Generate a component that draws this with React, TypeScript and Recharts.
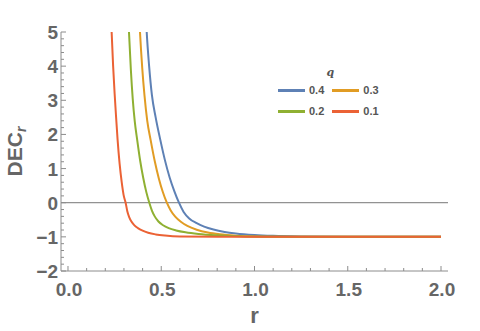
import React from "react";
import {
  LineChart,
  Line,
  XAxis,
  YAxis,
  ReferenceLine,
} from "recharts";

// q = 0.4 .. 0.1
const qLabels = ["0.4", "0.3", "0.2", "0.1"];
const qColors = ["#5E81B5", "#E19C24", "#8FB032", "#EB6235"];

const rBlue = [0.41, 0.422, 0.435, 0.45, 0.47, 0.495, 0.52, 0.545, 0.57, 0.595, 0.62, 0.65, 0.69, 0.73, 0.78, 0.84, 0.9, 1.0, 1.1, 1.25, 1.5, 2.0];
const decBlue = [6.4, 5.0, 4.0, 3.15, 2.5, 1.84, 1.24, 0.74, 0.34, 0, -0.27, -0.46, -0.6, -0.7, -0.785, -0.855, -0.9, -0.945, -0.97, -0.988, -0.998, -1];

const rOrange = [0.375, 0.386, 0.398, 0.41, 0.425, 0.443, 0.465, 0.487, 0.508, 0.53, 0.55, 0.575, 0.605, 0.64, 0.69, 0.75, 0.815, 0.9, 1.0, 1.2, 1.5, 2.0];
const decOrange = [6.3, 5.0, 3.95, 3.15, 2.4, 1.84, 1.22, 0.71, 0.32, 0, -0.22, -0.41, -0.56, -0.68, -0.79, -0.874, -0.926, -0.964, -0.986, -0.998, -1, -1];

const rGreen = [0.318, 0.327, 0.337, 0.347, 0.358, 0.371, 0.387, 0.403, 0.42, 0.436, 0.45, 0.465, 0.485, 0.51, 0.54, 0.58, 0.63, 0.7, 0.8, 0.95, 1.2, 1.5, 2.0];
const decGreen = [6.2, 5.0, 3.9, 3.05, 2.38, 1.84, 1.23, 0.74, 0.31, 0, -0.23, -0.4, -0.55, -0.66, -0.744, -0.812, -0.867, -0.916, -0.956, -0.986, -0.998, -1, -1];

const rRed = [0.226, 0.234, 0.242, 0.25, 0.258, 0.266, 0.277, 0.288, 0.298, 0.309, 0.318, 0.328, 0.34, 0.355, 0.375, 0.4, 0.43, 0.47, 0.52, 0.6, 0.8, 1.0, 1.5, 2.0];
const decRed = [6.2, 5.0, 4.0, 3.2, 2.5, 1.84, 1.13, 0.6, 0.23, 0, -0.25, -0.42, -0.55, -0.655, -0.745, -0.82, -0.88, -0.928, -0.963, -0.991, -1, -1, -1, -1];

const xMajor = [0, 0.5, 1, 1.5, 2];
const yMajor = [-2, -1, 0, 1, 2, 3, 4, 5];

const toPoints = (rs: number[], vs: number[]) => rs.map((r, i) => ({ r, v: vs[i] }));
const series = [
  toPoints(rBlue, decBlue),
  toPoints(rOrange, decOrange),
  toPoints(rGreen, decGreen),
  toPoints(rRed, decRed),
];

// minor ticks every 0.1 on x, every 0.2 on y
const xTicks = Array.from({ length: 21 }, (_, i) => i / 10);
const yTicks = Array.from({ length: 36 }, (_, i) => -2 + i / 5);
const isMajor = (v: number, majors: number[]) => majors.some((m) => Math.abs(m - v) < 1e-6);

const frame = "#8c8c8c";
const textColor = "#666";

const BottomTick = ({ x, y, payload }: any) => {
  const major = isMajor(payload.value, xMajor);
  return (
    <g>
      <line x1={x} x2={x} y1={y} y2={y - (major ? 5 : 3)} stroke={frame} />
      {major && (
        <text x={x + 1} y={y + 25} textAnchor="middle" fontSize={19} fontWeight="bold" fill={textColor}>
          {payload.value.toFixed(1)}
        </text>
      )}
    </g>
  );
};

const TopTick = ({ x, y, payload }: any) => {
  const major = isMajor(payload.value, xMajor);
  return <line x1={x} x2={x} y1={y} y2={y + (major ? 5 : 3)} stroke={frame} />;
};

const LeftTick = ({ x, y, payload }: any) => {
  const major = isMajor(payload.value, yMajor);
  const v = Math.round(payload.value);
  return (
    <g>
      <line x1={x} x2={x + (major ? 5 : 3)} y1={y} y2={y} stroke={frame} />
      {major && (
        <text x={x - 3} y={y + 7} textAnchor="end" fontSize={19} fontWeight="bold" fill={textColor}>
          {v < 0 ? "\u2212" + Math.abs(v) : String(v)}
        </text>
      )}
    </g>
  );
};

const RightTick = ({ x, y, payload }: any) => {
  const major = isMajor(payload.value, yMajor);
  return <line x1={x} x2={x - (major ? 5 : 3)} y1={y} y2={y} stroke={frame} />;
};

const YLabel = ({ viewBox }: any) => {
  const cx = viewBox.x + 0.5;
  const cy = viewBox.y + viewBox.height / 2;
  return (
    <text
      x={cx}
      y={cy}
      transform={`rotate(-90, ${cx}, ${cy})`}
      textAnchor="middle"
      fontSize={21}
      fontWeight="bold"
      fill={textColor}
    >
      DEC
      <tspan fontSize={14} fontStyle="italic" dy={4}>r</tspan>
    </text>
  );
};

const XLabel = ({ viewBox }: any) => (
  <text
    x={viewBox.x + viewBox.width / 2}
    y={viewBox.y + 52}
    textAnchor="middle"
    fontSize={22}
    fontWeight="bold"
    fill={textColor}
  >
    r
  </text>
);

function LegendBox() {
  return (
    <div
      style={{
        position: "absolute",
        left: 278,
        top: 66,
        fontSize: 11,
        fontWeight: "bold",
        color: "#555",
      }}
    >
      <div style={{ textAlign: "center", fontStyle: "italic", fontFamily: "'DejaVu Serif', serif", marginBottom: 5, marginLeft: 4 }}>q</div>
      <div style={{ display: "grid", gridTemplateColumns: "auto auto", columnGap: 8, rowGap: 9 }}>
        {qLabels.map((q, i) => (
          <div key={q} style={{ display: "flex", alignItems: "center", gap: 4 }}>
            <div style={{ width: 27, height: 3, background: qColors[i] }} />
            <span>{q}</span>
          </div>
        ))}
      </div>
    </div>
  );
}

export default function App() {
  return (
    <div
      style={{
        position: "absolute",
        left: 0,
        top: 0,
        width: 480,
        height: 331,
        background: "#fff",
        fontFamily: "'Liberation Sans', Arial, sans-serif",
      }}
    >
      <LineChart width={480} height={331} margin={{ top: 32, right: 32, bottom: 30, left: 21 }}>
        <XAxis
          xAxisId="b"
          dataKey="r"
          type="number"
          domain={[-0.0375, 2.0375]}
          allowDataOverflow
          ticks={xTicks}
          interval={0}
          tickSize={0}
          tickMargin={0}
          tickLine={false}
          tick={<BottomTick />}
          axisLine={{ stroke: frame }}
          height={30}
          label={<XLabel />}
        />
        <XAxis
          xAxisId="t"
          orientation="top"
          dataKey="r"
          type="number"
          domain={[-0.0375, 2.0375]}
          allowDataOverflow
          ticks={xTicks}
          interval={0}
          tickSize={0}
          tickMargin={0}
          tickLine={false}
          tick={<TopTick />}
          axisLine={{ stroke: frame }}
          height={0}
        />
        <YAxis
          yAxisId="l"
          type="number"
          domain={[-2, 5]}
          allowDataOverflow
          ticks={yTicks}
          interval={0}
          tickSize={0}
          tickMargin={0}
          tickLine={false}
          tick={<LeftTick />}
          axisLine={{ stroke: frame }}
          width={40}
          label={<YLabel />}
        />
        <YAxis
          yAxisId="rt"
          orientation="right"
          type="number"
          domain={[-2, 5]}
          allowDataOverflow
          ticks={yTicks}
          interval={0}
          tickSize={0}
          tickMargin={0}
          tickLine={false}
          tick={<RightTick />}
          axisLine={{ stroke: frame }}
          width={0}
        />
        <ReferenceLine xAxisId="b" yAxisId="l" y={0} stroke="#777" strokeWidth={1} />
        {series.map((pts, i) => (
          <Line
            key={qLabels[i]}
            xAxisId="b"
            yAxisId="l"
            data={pts}
            dataKey="v"
            type="monotone"
            stroke={qColors[i]}
            strokeWidth={2}
            dot={false}
            isAnimationActive={false}
          />
        ))}
      </LineChart>
      <LegendBox />
    </div>
  );
}
